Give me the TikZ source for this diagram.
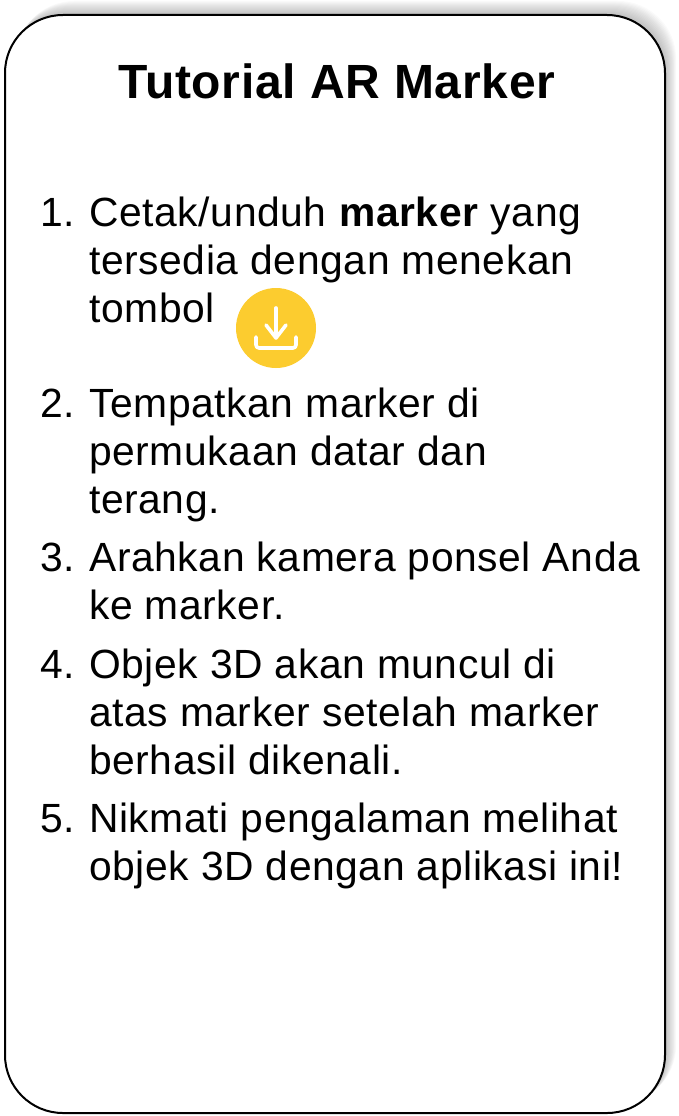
\documentclass[tikz,border=0pt]{standalone}
\usepackage{fontspec}
\setmainfont{Liberation Sans}[LetterSpace=1.5]
\usetikzlibrary{calc}
\tikzset{
	bodyline/.style={anchor=base west, inner sep=0pt, font=\fontsize{40.8}{48}\selectfont},
	titleline/.style={anchor=base, inner sep=0pt, font=\fontsize{48}{56}\selectfont\bfseries},
	iconline/.style={draw=white, line width=3.6pt, line cap=round, line join=round}
}
\definecolor{badgeyellow}{HTML}{FCCC2F}
\begin{document}
\begin{tikzpicture}[x=1pt,y=-1pt]
	\useasboundingbox (0,0) rectangle (679,1116);

	\foreach \g in {1,...,14}
		\fill[black, opacity=0.02, rounded corners=58pt] (5+\g*0.8,15-\g) rectangle (665+\g*0.8,1113-\g*0.7);
	\draw[fill=white, line width=2pt, rounded corners=58pt] (5,15) rectangle (665,1113);

	\node[titleline] (title) at (337,98) {Tutorial AR Marker};

	\node[bodyline] (num1) at (40,226.5) {1.};
	\node[bodyline] (line1a) at (89,226.5) {Cetak/unduh \textbf{marker} yang};
	\node[bodyline] (line1b) at (89,274.5) {tersedia dengan menekan};
	\node[bodyline] (line1c) at (89,322) {tombol};

	\fill[badgeyellow] (276,328) circle (40);
	\draw[iconline] (276,308) -- (276,337);
	\draw[iconline] (266,325) -- (276,338) -- (286,325);
	\draw[iconline, rounded corners=3pt] (256,337) -- (256,348) -- (296,348) -- (296,337);

	\node[bodyline] (num2) at (40,417.5) {2.};
	\node[bodyline] (line2a) at (89,417.5) {Tempatkan marker di};
	\node[bodyline] (line2b) at (89,465.5) {permukaan datar dan};
	\node[bodyline] (line2c) at (89,513.5) {terang.};

	\node[bodyline] (num3) at (40,571.5) {3.};
	\node[bodyline] (line3a) at (89,571.5) {Arahkan kamera ponsel Anda};
	\node[bodyline] (line3b) at (89,619.5) {ke marker.};

	\node[bodyline] (num4) at (40,678.5) {4.};
	\node[bodyline] (line4a) at (89,678.5) {Objek 3D akan muncul di};
	\node[bodyline] (line4b) at (89,726) {atas marker setelah marker};
	\node[bodyline] (line4c) at (89,774) {berhasil dikenali.};

	\node[bodyline] (num5) at (40,832) {5.};
	\node[bodyline] (line5a) at (89,832) {Nikmati pengalaman melihat};
	\node[bodyline] (line5b) at (89,880) {objek 3D dengan aplikasi ini!};
\end{tikzpicture}
\end{document}
